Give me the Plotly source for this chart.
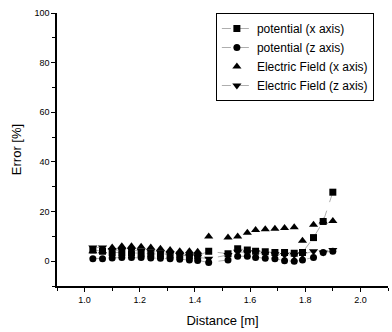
import plotly.graph_objects as go

distance = [1.03, 1.065, 1.10, 1.135, 1.17, 1.205, 1.24, 1.275, 1.31, 1.345, 1.38, 1.41,
            1.45, 1.52, 1.555, 1.59, 1.62, 1.655, 1.69, 1.725, 1.76, 1.79, 1.83, 1.865, 1.90]
pot_x = [4.5, 4.0, 3.5, 3.5, 3.5, 3.2, 3.0, 2.8, 2.6, 2.5, 2.3, 2.2,
         4.0, 3.0, 5.0, 4.5, 4.0, 3.8, 3.5, 3.5, 3.2, 3.5, 9.5, 16.0, 27.8]
pot_z = [1.0, 1.0, 1.3, 1.5, 1.5, 1.5, 1.3, 1.2, 1.0, 0.8, 0.5, 0.3,
         -0.5, 0.5, 2.0, 2.0, 1.5, 1.2, 1.0, 0.2, 0.0, 0.5, 1.5, 3.5, 4.0]
ef_x = [4.0, 4.0, 5.5, 6.0, 6.0, 5.8, 5.5, 5.0, 4.5, 4.0, 4.0, 3.8,
        9.9, 9.5, 9.9, 11.5, 12.6, 12.9, 13.1, 13.4, 13.7, 8.2, 14.7, 16.0, 16.2]
ef_z = [5.5, 5.5, 4.5, 4.5, 4.5, 4.2, 4.0, 3.5, 3.0, 2.5, 2.0, 1.8,
        1.0, 2.5, 3.8, 3.5, 3.5, 3.0, 2.8, 2.5, 2.5, 2.8, 4.0, 3.5, 4.5]

names = ["potential (x axis)", "potential (z axis)",
         "Electric Field (x axis)", "Electric Field (z axis)"]

line_style = dict(color="#777777", width=0.6, dash="dash")

fig = go.Figure()
fig.add_trace(go.Scatter(x=distance, y=pot_x, name=names[0], mode="lines+markers",
                         line=line_style,
                         marker=dict(symbol="square", size=7, color="black")))
fig.add_trace(go.Scatter(x=distance, y=pot_z, name=names[1], mode="lines+markers",
                         line=line_style,
                         marker=dict(symbol="circle", size=7, color="black")))
fig.add_trace(go.Scatter(x=distance, y=ef_x, name=names[2], mode="markers",
                         marker=dict(symbol="triangle-up", size=8, color="black")))
fig.add_trace(go.Scatter(x=distance, y=ef_z, name=names[3], mode="lines+markers",
                         line=line_style,
                         marker=dict(symbol="triangle-down", size=8, color="black")))

axis_font = dict(family="Liberation Sans, Arial", size=9, color="black")
title_font = dict(family="Liberation Sans, Arial", size=13, color="black")
fig.update_layout(
    width=392, height=332,
    margin=dict(l=57, r=4, t=13, b=46),
    paper_bgcolor="white", plot_bgcolor="white",
    font=dict(family="Liberation Sans, Arial", color="black"),
    showlegend=True,
    legend=dict(x=0.48, y=1.0, xanchor="left", yanchor="top",
                bgcolor="white", bordercolor="black", borderwidth=1,
                font=dict(size=12, family="Liberation Sans, Arial", color="black"),
                tracegroupgap=0),
    xaxis=dict(range=[0.9, 2.1], tickvals=[1.0, 1.2, 1.4, 1.6, 1.8, 2.0],
               ticktext=["1.0", "1.2", "1.4", "1.6", "1.8", "2.0"],
               ticks="outside", ticklen=4, tickcolor="black",
               minor=dict(dtick=0.1, tick0=0.9, ticks="outside", ticklen=3, tickcolor="black"),
               showline=True, linecolor="black", linewidth=1.5,
               showgrid=False, zeroline=False, tickfont=axis_font,
               title=dict(text="Distance [m]", font=title_font, standoff=12)),
    yaxis=dict(range=[-10, 100], tickvals=[0, 20, 40, 60, 80, 100],
               ticks="outside", ticklen=4, tickcolor="black",
               minor=dict(dtick=10, tick0=0, ticks="outside", ticklen=3, tickcolor="black"),
               showline=True, linecolor="black", linewidth=1.5,
               showgrid=False, zeroline=False, tickfont=axis_font,
               title=dict(text="Error [%]", font=title_font, standoff=10)),
)

fig.write_html("out.html")
